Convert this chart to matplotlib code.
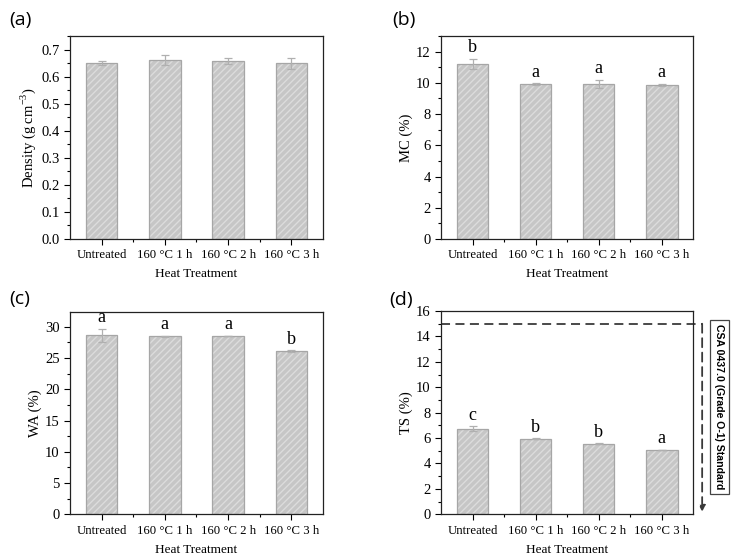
import matplotlib
matplotlib.use('Agg')
import matplotlib.pyplot as plt
from matplotlib.ticker import MultipleLocator, FixedLocator

plt.rcParams['font.family'] = ['Liberation Serif', 'DejaVu Serif']
plt.rcParams['mathtext.fontset'] = 'custom'
plt.rcParams['mathtext.rm'] = 'Liberation Serif'

# 데이터
treatments = ['Untreated', '160 °C 1 h', '160 °C 2 h', '160 °C 3 h']

density = [0.650, 0.660, 0.659, 0.649]
density_err = [0.009, 0.018, 0.011, 0.021]

mc = [11.2, 9.92, 9.92, 9.87]
mc_err = [0.32, 0.05, 0.27, 0.07]
mc_letters = ['b', 'a', 'a', 'a']

wa = [28.6, 28.45, 28.5, 26.1]
wa_err = [1.05, 0.05, 0.05, 0.1]
wa_letters = ['a', 'a', 'a', 'b']

ts = [6.72, 5.96, 5.57, 5.07]
ts_err = [0.2, 0.03, 0.03, 0.03]
ts_letters = ['c', 'b', 'b', 'a']
ts_standard = 15.0

FACE = '#c6c6c6'
HATCH = '#dcdcdc'
EDGE = '#a6a6a6'


def draw_panel(ax, values, errors, ylabel, ymax, major, letters=None):
    x = list(range(len(values)))
    # 빗금 채우기
    ax.bar(x, values, width=0.5, color=FACE, edgecolor=HATCH, hatch='/////', linewidth=0)
    ax.bar(x, values, width=0.5, color='none', edgecolor=EDGE, linewidth=0.9)
    ax.errorbar(x, values, yerr=errors, fmt='none', ecolor='#b0b0b0', elinewidth=0.9,
                capsize=3, capthick=0.9)
    if letters:
        for xi, v, e, t in zip(x, values, errors, letters):
            ax.annotate(t, (xi, v + e), xytext=(0, 8), textcoords='offset points',
                        ha='center', va='center', fontsize=13)
    ax.set_xlim(-0.5, 3.5)
    ax.set_ylim(0, ymax)
    ax.set_xticks(x)
    ax.set_xticklabels(treatments)
    ax.xaxis.set_minor_locator(FixedLocator([0.5, 1.5, 2.5]))
    ax.yaxis.set_major_locator(MultipleLocator(major))
    ax.yaxis.set_minor_locator(MultipleLocator(major / 2))
    ax.tick_params(axis='both', which='both', direction='out', top=False, right=False)
    ax.tick_params(axis='both', which='major', length=4, width=0.8)
    ax.tick_params(axis='both', which='minor', length=2, width=0.8)
    ax.tick_params(axis='x', labelsize=9.2)
    ax.tick_params(axis='y', labelsize=10.5)
    for s in ax.spines.values():
        s.set_linewidth(0.9)
        s.set_color('#222222')
    ax.set_xlabel('Heat Treatment', fontsize=9.5, labelpad=5)
    ax.set_ylabel(ylabel, fontsize=10.5, labelpad=2)


fig = plt.figure(figsize=(7.35, 5.58), dpi=100)

ax_a = fig.add_axes([0.0952, 0.5717, 0.3442, 0.3638])
ax_b = fig.add_axes([0.6, 0.5717, 0.3433, 0.3638])
ax_c = fig.add_axes([0.0952, 0.0783, 0.3442, 0.3631])
ax_d = fig.add_axes([0.6, 0.0783, 0.3433, 0.3643])

draw_panel(ax_a, density, density_err, 'Density (g cm$^{-3}$)', 0.75, 0.1)
ax_a.yaxis.set_major_formatter(plt.FuncFormatter(lambda v, p: f'{v:.1f}'))
draw_panel(ax_b, mc, mc_err, 'MC (%)', 13, 2, mc_letters)
draw_panel(ax_c, wa, wa_err, 'WA (%)', 32.4, 5, wa_letters)
draw_panel(ax_d, ts, ts_err, 'TS (%)', 16, 2, ts_letters)

# 기준선 (CSA 0437.0)
trans = ax_d.get_yaxis_transform()
ax_d.plot([0, 1.035], [ts_standard, ts_standard], transform=trans, color='#3a3a3a',
          linestyle=(0, (5, 3)), linewidth=1.3, clip_on=False)
ax_d.annotate('', xy=(1.035, 0.2), xytext=(1.035, ts_standard), xycoords=trans,
              textcoords=trans, annotation_clip=False,
              arrowprops=dict(arrowstyle='-|>', linestyle=(0, (5, 3)), color='#3a3a3a',
                              lw=1.3, mutation_scale=9, shrinkA=0, shrinkB=0))
ax_d.text(1.103, 8.45, 'CSA 0437.0 (Grade O-1) Standard', transform=trans, rotation=270,
          ha='center', va='center', fontsize=7.6, fontweight='bold',
          family=['Liberation Sans Narrow', 'Liberation Sans', 'DejaVu Sans'],
          bbox=dict(boxstyle='square,pad=0.45', facecolor='white', edgecolor='#444444',
                    linewidth=0.9), clip_on=False)

# 패널 라벨
for label, px, py in [('(a)', 0.013, 0.965), ('(b)', 0.533, 0.965),
                      ('(c)', 0.013, 0.464), ('(d)', 0.53, 0.462)]:
    fig.text(px, py, label, fontsize=14, family=['Open Sans', 'DejaVu Sans'],
             ha='left', va='center')

fig.savefig('out.png', dpi=100)
